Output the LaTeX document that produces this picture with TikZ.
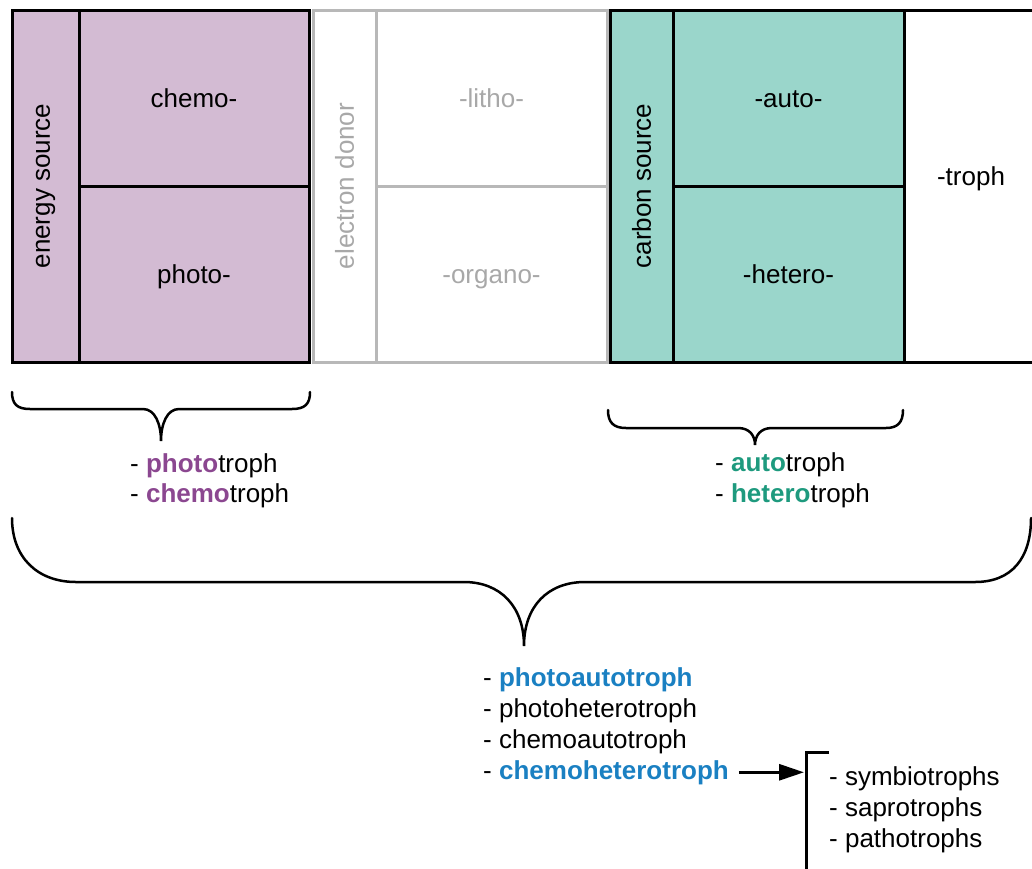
\documentclass[tikz,border=0pt]{standalone}
\usepackage{fontspec}
\setmainfont{Liberation Sans}
\usetikzlibrary{arrows.meta}
\definecolor{pfill}{HTML}{D3BBD3}
\definecolor{tfill}{HTML}{9AD6CB}
\definecolor{ptext}{HTML}{8B4790}
\definecolor{ttext}{HTML}{1E9A7E}
\definecolor{btext}{HTML}{1A80C2}
\definecolor{gline}{HTML}{B8B8B8}
\definecolor{gtext}{HTML}{A8A8A8}
\begin{document}
\begin{tikzpicture}[x=1pt,y=-1pt,
  txt/.style={font=\fontsize{26}{31}\selectfont},
  cell/.style={txt, draw, line width=3pt, inner sep=0pt, outer sep=0pt,
    text height=19pt, text depth=0pt},
  strip/.style={txt, draw, line width=3pt, inner sep=0pt, outer sep=0pt,
    rotate=90, minimum width=352pt},
  gcell/.style={cell, draw=gline, text=gtext},
  lst/.style={txt, anchor=base west, inner sep=0pt},
  brace/.style={line width=2.5pt, line cap=round},
  arr/.style={line width=3pt, -{Triangle[length=25pt,width=16pt]}}]
\useasboundingbox (0,0) rectangle (1032,868);
% electron donor (grey)
\node[strip, draw=gline, text=gtext, minimum height=63pt] (ed) at (344.5,186) {electron donor};
\node[gcell, minimum width=231pt, minimum height=176pt] (litho) at (491.5,98) {-litho-};
\node[gcell, minimum width=231pt, minimum height=176pt] (organo) at (491.5,274) {-organo-};
% energy source
\node[strip, fill=pfill, minimum height=67pt] (es) at (45.5,186) {energy source};
\node[cell, fill=pfill, minimum width=230pt, minimum height=176pt] (chemo) at (194,98) {chemo-};
\node[cell, fill=pfill, minimum width=230pt, minimum height=176pt] (photo) at (194,274) {photo-};
% carbon source
\node[strip, fill=tfill, minimum height=63pt] (cs) at (641.5,186) {carbon source};
\node[cell, fill=tfill, minimum width=231pt, minimum height=176pt] (auto) at (788.5,98) {-auto-};
\node[cell, fill=tfill, minimum width=231pt, minimum height=176pt] (hetero) at (788.5,274) {-hetero-};
% troph
\node[cell, minimum width=134pt, minimum height=352pt] (troph) at (971,186) {};
\node[txt, anchor=base, inner sep=0pt] (trophlbl) at (971,185) {-troph};
% braces
\draw[brace] (12,392) .. controls (12,404) and (17,409) .. (30,409) -- (143,409)
  .. controls (155,409) and (161,424) .. (161,441)
  .. controls (161,424) and (167,409) .. (179,409) -- (292,409)
  .. controls (305,409) and (310,404) .. (310,392);
\draw[brace] (608,410) .. controls (608,422) and (613,428) .. (626,428) -- (738,428)
  .. controls (750,428) and (755,436) .. (755,445)
  .. controls (755,436) and (760,428) .. (772,428) -- (886,428)
  .. controls (898,428) and (903,422) .. (903,410);
\draw[brace] (12,518) .. controls (12,558) and (38,582) .. (76,582) -- (464,582)
  .. controls (500,582) and (524,606) .. (524,646)
  .. controls (524,606) and (548,582) .. (585,582) -- (975,582)
  .. controls (1012,582) and (1031,558) .. (1031,518);
% lists
\node[lst] (pt) at (130,472) {- \textbf{\textcolor{ptext}{photo}}troph};
\node[lst] (ct) at (130,502) {- \textbf{\textcolor{ptext}{chemo}}troph};
\node[lst] (at) at (715,471) {- \textbf{\textcolor{ttext}{auto}}troph};
\node[lst] (ht) at (715,502) {- \textbf{\textcolor{ttext}{hetero}}troph};
\node[lst] (pa) at (483,686) {- \textbf{\textcolor{btext}{photoautotroph}}};
\node[lst] (ph) at (483,717) {- photoheterotroph};
\node[lst] (ca) at (483,748) {- chemoautotroph};
\node[lst] (ch) at (483,779) {- \textbf{\textcolor{btext}{chemoheterotroph}}};
\node[lst] (sy) at (829,785) {- symbiotrophs};
\node[lst] (sa) at (829,816) {- saprotrophs};
\node[lst] (pat) at (829,847) {- pathotrophs};
% bracket and arrow
\coordinate (brktop) at (806,752);
\coordinate (brkend) at (829,752);
\coordinate (brkbot) at (806,875);
\draw[line width=3pt] (brkend) -- (brktop) -- (brkbot);
\draw[arr] ([xshift=10pt]ch.east) -- ([xshift=-2pt]ch.east -| brktop);
\end{tikzpicture}
\end{document}
